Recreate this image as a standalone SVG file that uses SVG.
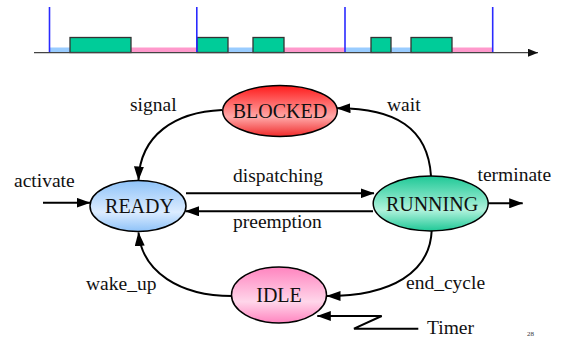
<svg xmlns="http://www.w3.org/2000/svg" width="562" height="337" viewBox="0 0 562 337" font-family="'Liberation Serif', 'DejaVu Serif', 'Noto Serif', serif">
  <style>
    .node { stroke: #000; stroke-width: 1.5; }
    .name { font-size: 20px; fill: #111; text-anchor: middle; }
    .lbl { font-size: 19.5px; fill: #111; }
    .edge { fill: none; stroke: #000; stroke-width: 2; }
    .run { fill: #00cc99; stroke: #333; stroke-width: 1.3; }
    .idle { fill: #ff99cc; }
    .wait { fill: #99ccff; }
    .tick { stroke: #2a2aff; stroke-width: 1.6; }
  </style>
  <defs>
    <marker id="arrow" viewBox="0 0 14 10" refX="13.5" refY="5" markerWidth="14" markerHeight="10" markerUnits="userSpaceOnUse" orient="auto">
      <path d="M0,0 L14,5 L0,10 Z" fill="#000"/>
    </marker>
    <marker id="tarrow" viewBox="0 0 10 8" refX="10" refY="4" markerWidth="10" markerHeight="8" markerUnits="userSpaceOnUse" orient="auto">
      <path d="M0,0 L10,4 L0,8 Z" fill="#111"/>
    </marker>
    <linearGradient id="gRed" x1="0" y1="0" x2="0" y2="1">
      <stop offset="0" stop-color="#ff1a1a"/>
      <stop offset="0.62" stop-color="#ffa8a8"/>
      <stop offset="1" stop-color="#f02a2a"/>
    </linearGradient>
    <linearGradient id="gGreen" x1="0" y1="0" x2="0" y2="1">
      <stop offset="0" stop-color="#1ec896"/>
      <stop offset="0.62" stop-color="#b0f2dc"/>
      <stop offset="1" stop-color="#1ec896"/>
    </linearGradient>
    <linearGradient id="gBlue" x1="0" y1="0" x2="0" y2="1">
      <stop offset="0" stop-color="#8ec2f8"/>
      <stop offset="0.62" stop-color="#dcecff"/>
      <stop offset="1" stop-color="#8ec2f8"/>
    </linearGradient>
    <linearGradient id="gPink" x1="0" y1="0" x2="0" y2="1">
      <stop offset="0" stop-color="#ff84bf"/>
      <stop offset="0.62" stop-color="#ffd6ea"/>
      <stop offset="1" stop-color="#ff84bf"/>
    </linearGradient>
  </defs>

  <!-- Timeline strip -->
  <g id="timeline">
    <rect class="wait" x="49.5" y="47.5" width="20.5" height="5"/>
    <rect class="idle" x="131" y="47.5" width="66" height="5"/>
    <rect class="wait" x="228" y="47.5" width="25" height="5"/>
    <rect class="idle" x="284" y="47.5" width="61" height="5"/>
    <rect class="wait" x="345" y="47.5" width="26" height="5"/>
    <rect class="wait" x="391" y="47.5" width="20" height="5"/>
    <rect class="idle" x="452" y="47.5" width="41" height="5"/>
    <rect class="run" x="70" y="37.5" width="61" height="15"/>
    <rect class="run" x="197" y="37.5" width="31" height="15"/>
    <rect class="run" x="253" y="37.5" width="31" height="15"/>
    <rect class="run" x="371" y="37.5" width="20" height="15"/>
    <rect class="run" x="411" y="37.5" width="41" height="15"/>
    <line class="tick" x1="49.5" y1="7" x2="49.5" y2="52.5"/>
    <line class="tick" x1="196.8" y1="7" x2="196.8" y2="52.5"/>
    <line class="tick" x1="345" y1="7" x2="345" y2="52.5"/>
    <line class="tick" x1="492.7" y1="7" x2="492.7" y2="52.5"/>
    <line x1="34" y1="52.7" x2="538" y2="52.7" stroke="#444" stroke-width="1.3" marker-end="url(#tarrow)"/>
  </g>

  <!-- Transitions -->
  <g id="connectors">
    <path class="edge" d="M222,110 C175,112 140,135 138.5,180" marker-end="url(#arrow)"/>
    <path class="edge" d="M431,176 C428,128 395,108 337,108.3" marker-end="url(#arrow)"/>
    <path class="edge" d="M186,193.3 L374,193.3" marker-end="url(#arrow)"/>
    <path class="edge" d="M373,211.3 L185.5,211.3" marker-end="url(#arrow)"/>
    <path class="edge" d="M488,203.3 L522.7,203.3" marker-end="url(#arrow)"/>
    <path class="edge" d="M43,202.7 L90,202.7" marker-end="url(#arrow)"/>
    <path class="edge" d="M232,296 C180,296 142,272 138.5,232.5" marker-end="url(#arrow)"/>
    <path class="edge" d="M431.7,230.5 C430,272 392,296 327,296" marker-end="url(#arrow)"/>
    <path class="edge" d="M418.3,328.7 L354,328.7 L381.7,316 L317.3,316" marker-end="url(#arrow)"/>
  </g>

  <!-- States -->
  <g id="blocked">
    <ellipse class="node" cx="280" cy="111" rx="57.3" ry="25.5" fill="url(#gRed)"/>
    <text class="name" x="280" y="118">BLOCKED</text>
  </g>
  <g id="ready">
    <ellipse class="node" cx="138" cy="206" rx="48" ry="25.5" fill="url(#gBlue)"/>
    <text class="name" x="139.5" y="213">READY</text>
  </g>
  <g id="running">
    <ellipse class="node" cx="430.7" cy="203.5" rx="57.5" ry="27.5" fill="url(#gGreen)"/>
    <text class="name" x="432" y="211">RUNNING</text>
  </g>
  <g id="idle">
    <ellipse class="node" cx="279" cy="295" rx="47.5" ry="28" fill="url(#gPink)"/>
    <text class="name" x="279" y="302">IDLE</text>
  </g>

  <!-- Transition labels -->
  <g id="labels">
    <text class="lbl" x="130" y="111">signal</text>
    <text class="lbl" x="387" y="111">wait</text>
    <text class="lbl" x="233" y="182">dispatching</text>
    <text class="lbl" x="233" y="228">preemption</text>
    <text class="lbl" x="477.5" y="181">terminate</text>
    <text class="lbl" x="14" y="187">activate</text>
    <text class="lbl" x="86" y="290">wake_up</text>
    <text class="lbl" x="406" y="288.5">end_cycle</text>
    <text class="lbl" x="427" y="333.5">Timer</text>
    <text x="527" y="336" font-size="7" fill="#333">28</text>
  </g>
</svg>
